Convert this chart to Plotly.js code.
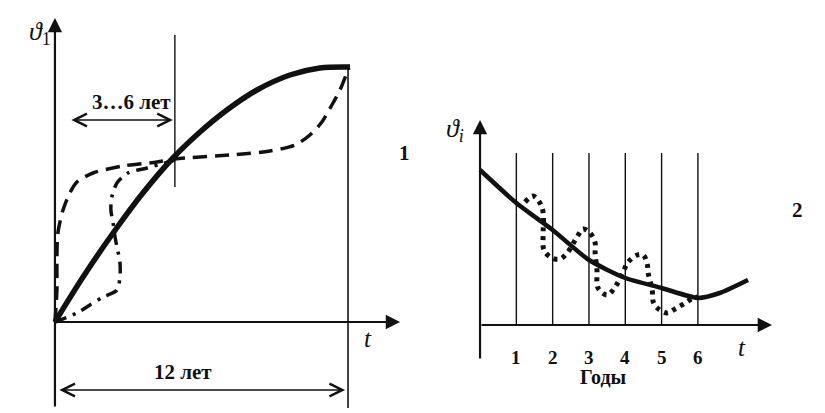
<!DOCTYPE html>
<html>
<head>
<meta charset="utf-8">
<script src="https://cdn.plot.ly/plotly-3.0.1.min.js"></script>
<style>html,body{margin:0;padding:0;background:#fff;}#chart{width:825px;height:413px;}</style>
</head>
<body>
<div id="chart"></div>
<script>
// ---- Panel 1 data (t in years, value in arbitrary units) ----
const solid1X = [0, 1.15, 2.38, 3.60, 4.83, 5.94, 7.04, 8.27, 9.62, 10.85, 12.08];
const solid1Y = [0, 45, 89, 129, 164, 190, 212, 232, 247, 254, 255];
const dash1X = [0, 0.08, 0.08, 0.12, 0.33, 0.61, 0.90, 1.56, 2.79, 4.18, 4.91, 7.17, 8.80, 9.83, 10.44, 10.93, 11.34, 11.67, 11.92, 12.04];
const dash1Y = [0, 32, 62, 89, 112, 129, 140, 149, 156, 160, 163, 167, 171, 177, 187, 200, 217, 232, 247, 254];
const dashdot1X = [0, 0.90, 1.43, 1.97, 2.54, 2.66, 2.66, 2.54, 2.46, 2.38, 2.29, 2.33, 2.54, 2.99, 3.77, 4.91];
const dashdot1Y = [0, 9, 17, 25, 32, 45, 60, 75, 85, 99, 112, 125, 139, 149, 154, 162];
const markYear1 = 4.91;   // vertical marker "3…6 лет"
const endYear1 = 12;      // "12 лет"

// ---- Panel 2 data ----
const years2 = [1, 2, 3, 4, 5, 6];
const yearLabels2 = ['1', '2', '3', '4', '5', '6'];
const solid2X = [0, 1, 2, 3, 4, 5, 6, 6.6, 7.38];
const solid2Y = [155, 122, 95, 65, 47, 37, 27, 32, 45];
const dot2X = [1.24, 1.46, 1.65, 1.74, 1.74, 1.76, 1.98, 2.20, 2.40, 2.67, 2.84, 3.03, 3.17, 3.17, 3.22, 3.25, 3.50, 3.72, 3.94, 4.08, 4.33, 4.49, 4.60, 4.63, 4.74, 4.77, 4.88, 5.15, 5.37, 5.65, 5.87, 6.0];
const dot2Y = [123, 129, 122, 112, 93, 75, 67, 66, 72, 88, 96, 92, 82, 72, 55, 37, 30, 38, 53, 63, 70, 70, 62, 52, 35, 23, 17, 12, 16, 22, 27, 28];

const INK = '#111';
const SERIF = '"Liberation Serif", "DejaVu Serif", serif';

const traces = [
  {x: dash1X, y: dash1Y, mode: 'lines', line: {color: INK, width: 3.5, dash: '14px,8px', shape: 'spline', smoothing: 0.8}, xaxis: 'x', yaxis: 'y', hoverinfo: 'skip'},
  {x: dashdot1X, y: dashdot1Y, mode: 'lines', line: {color: INK, width: 3.5, dash: '12px,7px,3px,7px', shape: 'spline', smoothing: 0.8}, xaxis: 'x', yaxis: 'y', hoverinfo: 'skip'},
  {x: solid1X, y: solid1Y, mode: 'lines', line: {color: INK, width: 5.5, shape: 'spline', smoothing: 1}, xaxis: 'x', yaxis: 'y', hoverinfo: 'skip'},
  {x: dot2X, y: dot2Y, mode: 'lines', line: {color: INK, width: 5, dash: '4px,5px', shape: 'spline', smoothing: 1}, xaxis: 'x2', yaxis: 'y2', hoverinfo: 'skip'},
  {x: solid2X, y: solid2Y, mode: 'lines', line: {color: INK, width: 4.5, shape: 'spline', smoothing: 0.6}, xaxis: 'x2', yaxis: 'y2', hoverinfo: 'skip'}
];

const shapes = [
  {type: 'line', xref: 'x', yref: 'y', x0: markYear1, x1: markYear1, y0: 135, y1: 287, line: {color: INK, width: 1.4}},
  {type: 'line', xref: 'x', yref: 'y', x0: endYear1, x1: endYear1, y0: -86, y1: 254, line: {color: INK, width: 1.6}}
];
years2.forEach(function (yr) {
  shapes.push({type: 'line', xref: 'x2', yref: 'y2', x0: yr, x1: yr, y0: 0, y1: 172, line: {color: INK, width: 1.4}});
});

function arrow(xr, yr, x0, y0, x1, y1, opts) {
  return Object.assign({xref: xr, yref: yr, axref: xr, ayref: yr, x: x1, y: y1, ax: x0, ay: y0,
    text: '', showarrow: true, arrowhead: 2, arrowsize: 1.3, arrowwidth: 2.2, arrowcolor: INK, standoff: 0, startstandoff: 0}, opts || {});
}
function label(xr, yr, x, y, text, size, extra) {
  return Object.assign({xref: xr, yref: yr, x: x, y: y, text: text, showarrow: false,
    font: {family: SERIF, size: size, color: INK}, xanchor: 'center', yanchor: 'middle'}, extra || {});
}

const annotations = [
  // axes panel 1
  arrow('x', 'y', 0, -86, 0, 304),
  arrow('x', 'y', 0, 0, 14.13, 0),
  // dimension arrows panel 1
  arrow('x', 'y', 0.61, 202, 4.83, 202, {arrowhead: 5, arrowside: 'end+start', arrowsize: 1.8, arrowwidth: 1.4}),
  arrow('x', 'y', 0.12, -68, 11.88, -68, {arrowhead: 5, arrowside: 'end+start', arrowsize: 1.8, arrowwidth: 1.4}),
  // axes panel 2
  arrow('x2', 'y2', 0, -35, 0, 205),
  arrow('x2', 'y2', 0, 0, 8.04, 0),
  // texts panel 1
  label('x', 'y', -0.6, 289, '<i>ϑ</i><sub>1</sub>', 26),
  label('x', 'y', 3.15, 220, '<b>3…6 лет</b>', 21),
  label('x', 'y', 5.24, -50, '<b>12 лет</b>', 21),
  label('x', 'y', 12.82, -16, '<i>t</i>', 25),
  label('x', 'y', 14.33, 169, '<b>1</b>', 21),
  // texts panel 2
  label('x2', 'y2', -0.7, 195, '<i>ϑ<sub>i</sub></i>', 26),
  label('x2', 'y2', 7.22, -22, '<i>t</i>', 25),
  label('x2', 'y2', 8.73, 115, '<b>2</b>', 21),
  label('x2', 'y2', 3.39, -52, '<b>Годы</b>', 20)
];
years2.forEach(function (yr, i) {
  annotations.push(label('x2', 'y2', yr, -32, '<b>' + yearLabels2[i] + '</b>', 19));
});

const hidden = {visible: false, fixedrange: true};
const layout = {
  width: 825, height: 413,
  margin: {l: 0, r: 0, t: 0, b: 0, pad: 0},
  paper_bgcolor: '#fff', plot_bgcolor: '#fff',
  showlegend: false,
  xaxis: Object.assign({domain: [0, 0.5], range: [-2.25, 14.64]}, hidden),
  yaxis: Object.assign({domain: [0, 1], range: [-91, 322]}, hidden),
  xaxis2: Object.assign({domain: [0.5, 1], range: [-1.86, 9.50], anchor: 'y2'}, hidden),
  yaxis2: Object.assign({domain: [0, 1], range: [-88, 325], anchor: 'x2'}, hidden),
  shapes: shapes,
  annotations: annotations
};

Plotly.newPlot('chart', traces, layout, {staticPlot: true, displayModeBar: false});
</script>
</body>
</html>
